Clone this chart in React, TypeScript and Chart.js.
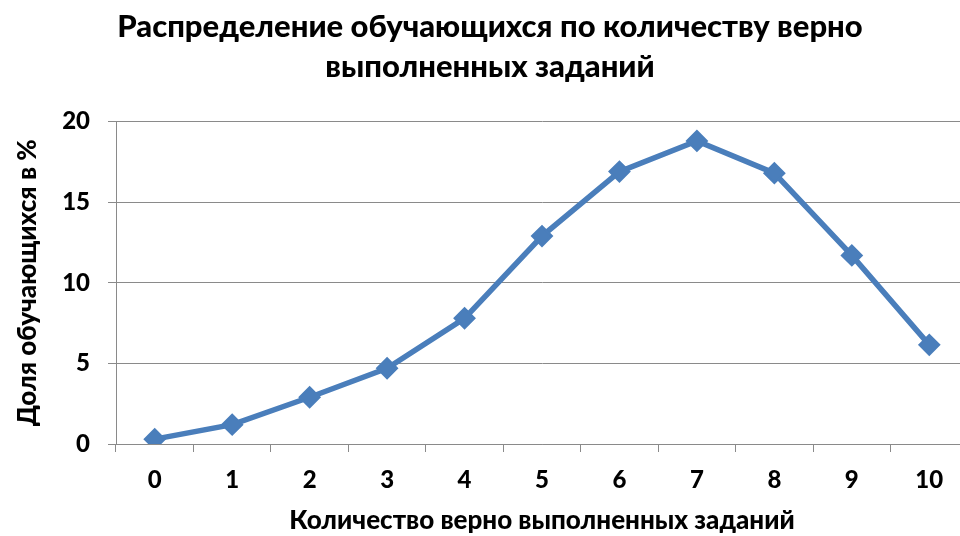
import React, { useEffect, useRef } from "react";
import { Chart, registerables } from "chart.js";

Chart.register(...registerables);

const categories = ["0", "1", "2", "3", "4", "5", "6", "7", "8", "9", "10"];
const shares = [0.3, 1.2, 2.9, 4.7, 7.8, 12.9, 16.9, 18.8, 16.8, 11.7, 6.15];
const titleLines = ["Распределение обучающихся по количеству верно", "выполненных заданий"];
const xTitle = "Количество верно выполненных заданий";
const yTitle = "Доля обучающихся в %";

const FONT = "Lato, 'Open Sans', sans-serif";
const W = 900;
const GRID = "#8a8a8a";
const BLUE = "#4a7ebb";

export default function App() {
  const ref = useRef<HTMLCanvasElement | null>(null);
  useEffect(() => {
    document.body.style.margin = "0";
    const chart = new Chart(ref.current!, {
      type: "line",
      data: {
        labels: categories,
        datasets: [
          {
            data: shares,
            borderColor: BLUE,
            backgroundColor: BLUE,
            borderWidth: 5.5,
            pointStyle: "rectRot",
            pointRadius: 10,
            pointBorderWidth: 2,
            pointBackgroundColor: BLUE,
            pointBorderColor: BLUE,
            tension: 0,
          },
        ],
      },
      options: {
        animation: false,
        responsive: false,
        devicePixelRatio: 1,
        layout: { padding: { left: 0, right: 0, top: 0, bottom: 0 } },
        plugins: {
          legend: { display: false },
          tooltip: { enabled: false },
          title: {
            display: true,
            text: titleLines,
            color: "#000",
            font: { family: FONT, size: 31, weight: W as any, lineHeight: 1.3 },
            padding: { top: 7, bottom: 34 },
          },
        },
        scales: {
          x: {
            offset: true,
            afterFit: (s: any) => {
              s.height = 92;
            },
            grid: {
              display: true,
              offset: true,
              drawOnChartArea: false,
              drawTicks: true,
              tickLength: 8,
              color: GRID,
            },
            border: { display: true, color: GRID, width: 1 },
            ticks: {
              color: "#000",
              font: { family: FONT, size: 24, weight: W as any },
              padding: 14,
              maxRotation: 0,
            },
            title: {
              display: true,
              text: xTitle,
              color: "#000",
              font: { family: FONT, size: 26, weight: W as any, lineHeight: 1.1 },
              padding: { top: 0, bottom: 1 },
            },
          },
          y: {
            min: 0,
            max: 20,
            afterFit: (s: any) => {
              s.width = 116;
            },
            ticks: {
              stepSize: 5,
              color: "#000",
              font: { family: FONT, size: 24, weight: W as any },
              padding: 18,
            },
            grid: { color: GRID, tickLength: 8, lineWidth: 1 },
            border: { display: true, color: GRID, width: 1 },
            title: {
              display: true,
              text: yTitle,
              color: "#000",
              font: { family: FONT, size: 26, weight: W as any, lineHeight: 1.2 },
              padding: { top: 12, bottom: 0 },
            },
          },
        },
      },
    });
    return () => chart.destroy();
  }, []);
  return (
    <div style={{ position: "absolute", left: 0, top: 0, width: 960, height: 536, overflow: "hidden", background: "#fff" }}>
      <canvas ref={ref} width={980} height={536} />
    </div>
  );
}
